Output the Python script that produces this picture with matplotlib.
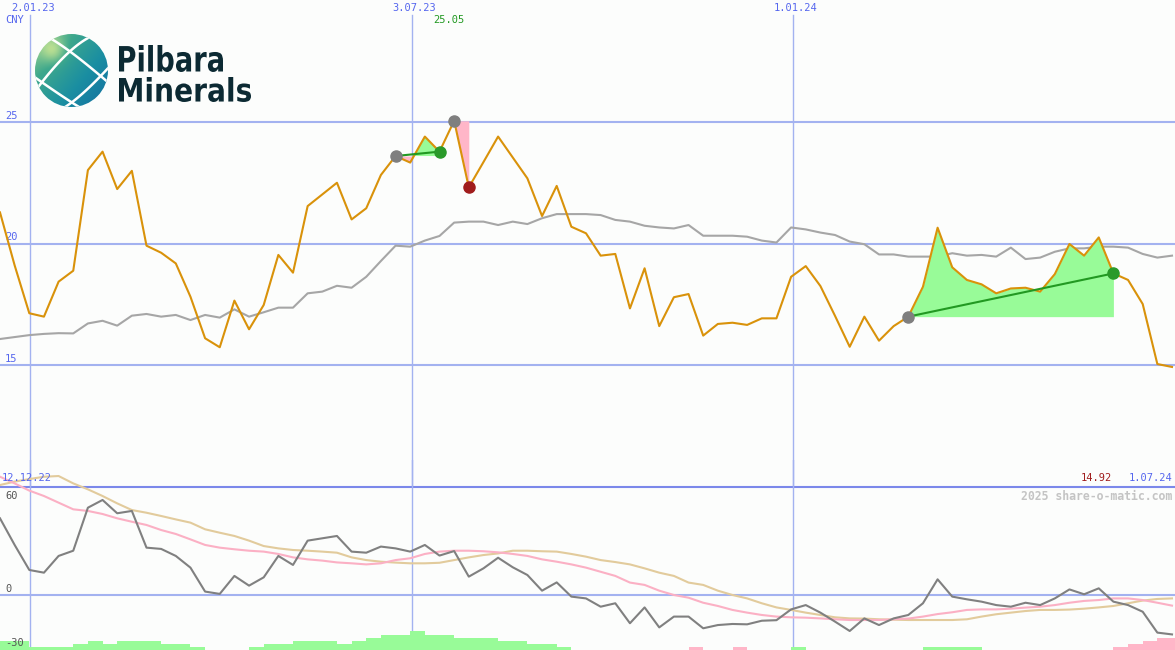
import numpy as np
import matplotlib
matplotlib.use("Agg")
import matplotlib.pyplot as plt
import matplotlib.transforms as mtransforms
from matplotlib.patches import Circle, PathPatch
from matplotlib.textpath import TextPath
from matplotlib.font_manager import FontProperties
from matplotlib.colors import LinearSegmentedColormap

# weekly closing prices (CNY), 12.12.22 .. 1.07.24
price = [21.28, 19.10, 17.13, 16.99, 18.43, 18.88, 23.02, 23.78, 22.24, 22.99,
         19.91, 19.62, 19.18, 17.81, 16.10, 15.73, 17.65, 16.47, 17.47, 19.53,
         18.80, 21.54, 22.02, 22.50, 20.99, 21.45, 22.82, 23.60, 23.33, 24.40,
         23.78, 25.05, 22.31, 23.35, 24.40, 23.54, 22.68, 21.13, 22.37, 20.69,
         20.42, 19.50, 19.57, 17.33, 18.98, 16.60, 17.79, 17.92, 16.21, 16.69,
         16.74, 16.65, 16.92, 16.92, 18.63, 19.07, 18.25, 17.02, 15.75, 16.99,
         16.00, 16.60, 16.99, 18.22, 20.65, 19.02, 18.50, 18.32, 17.95, 18.15,
         18.18, 18.02, 18.74, 19.98, 19.50, 20.25, 18.77, 18.50, 17.51, 15.04, 14.92]

# long moving average
avg = [16.07, 16.15, 16.23, 16.28, 16.31, 16.30, 16.71, 16.82, 16.62, 17.03,
       17.10, 16.99, 17.06, 16.85, 17.06, 16.95, 17.29, 16.99, 17.17, 17.36,
       17.36, 17.95, 18.02, 18.26, 18.18, 18.63, 19.28, 19.91, 19.87, 20.12,
       20.31, 20.86, 20.90, 20.90, 20.76, 20.90, 20.80, 21.04, 21.21, 21.21,
       21.21, 21.17, 20.97, 20.90, 20.73, 20.66, 20.62, 20.76, 20.32, 20.32,
       20.32, 20.28, 20.12, 20.04, 20.66, 20.58, 20.45, 20.35, 20.08, 19.97,
       19.55, 19.55, 19.46, 19.46, 19.46, 19.60, 19.50, 19.53, 19.46, 19.83,
       19.36, 19.42, 19.66, 19.80, 19.80, 19.87, 19.87, 19.83, 19.57, 19.42, 19.50]

# lower panel: oscillator and its two averages
osc = [42.6, 27.8, 13.9, 12.4, 21.7, 24.6, 48.5, 52.8, 45.4, 46.7,
       26.3, 25.6, 21.7, 15.2, 1.9, 0.6, 10.6, 5.2, 9.8, 21.7,
       16.7, 30.2, 31.5, 32.8, 24.1, 23.5, 26.9, 25.9, 24.1, 27.8,
       21.9, 24.4, 10.2, 14.8, 20.7, 15.4, 11.1, 2.4, 7.0, -0.9,
       -1.9, -6.5, -4.6, -15.7, -6.9, -18.0, -12.0, -12.0, -18.5, -16.7,
       -16.1, -16.3, -14.3, -14.0, -8.0, -5.6, -9.8, -14.8, -20.0, -13.0,
       -16.7, -13.0, -11.1, -4.6, 8.7, -0.9, -2.4, -3.7, -5.6, -6.5,
       -4.3, -5.6, -1.9, 3.1, 0.4, 3.7, -3.7, -5.6, -9.3, -20.9, -21.9]

osc_fast = [65.7, 62.0, 58.0, 55.0, 51.3, 47.6, 46.7, 45.0, 42.6, 40.7,
            38.9, 36.1, 33.9, 30.9, 27.8, 26.3, 25.4, 24.6, 24.1, 22.8,
            20.9, 19.8, 19.1, 18.1, 17.6, 17.0, 17.6, 19.4, 20.4, 22.8,
            24.1, 24.6, 24.6, 24.3, 23.7, 22.8, 21.7, 19.8, 18.5, 17.0,
            15.2, 12.9, 10.6, 6.9, 5.6, 2.4, 0.0, -1.5, -4.3, -6.1,
            -8.3, -9.8, -11.1, -12.0, -12.4, -12.6, -13.0, -13.5, -13.9, -13.9,
            -13.9, -13.5, -13.1, -12.0, -10.6, -9.6, -8.3, -8.0, -8.0, -7.6,
            -7.0, -6.5, -5.6, -4.3, -3.3, -2.8, -1.9, -1.9, -2.8, -4.3, -5.9]

osc_slow = [61.1, 63.0, 64.4, 65.7, 66.1, 62.0, 58.7, 55.0, 50.9, 47.2,
            45.7, 43.9, 42.0, 40.2, 36.5, 34.6, 32.8, 30.2, 27.2, 25.9,
            25.0, 24.6, 24.1, 23.5, 20.9, 19.4, 18.5, 18.0, 17.6, 17.6,
            17.9, 19.4, 20.9, 22.2, 23.1, 24.6, 24.6, 24.3, 24.1, 22.8,
            21.3, 19.4, 18.3, 17.0, 14.8, 12.4, 10.6, 6.9, 5.6, 2.4,
            0.0, -1.9, -4.6, -6.9, -8.3, -9.8, -11.1, -12.4, -13.0, -13.1,
            -13.5, -13.7, -13.9, -13.9, -13.9, -13.9, -13.5, -12.0, -10.7, -9.8,
            -8.9, -8.3, -8.3, -8.1, -7.6, -6.9, -6.1, -4.6, -3.1, -2.2, -1.9]

hist = [5, 5, 1.7, 1.7, 1.7, 3.3, 5, 3.3, 5, 5,
        5, 3.3, 3.3, 1.7, 0, 0, 0, 1.7, 3.3, 3.3,
        5, 5, 5, 3.3, 5, 6.7, 8.3, 8.3, 10.5, 8.3,
        8.3, 6.7, 6.7, 6.7, 5, 5, 3.3, 3.3, 1.7, 0,
        0, 0, 0, 0, 0, 0, 0, -1.7, 0, 0,
        -1.7, 0, 0, 0, 1.7, 0, 0, 0, 0, 0,
        0, 0, 0, 1.7, 1.7, 1.7, 1.7, 0, 0, 0,
        0, 0, 0, 0, 0, 0, -1.7, -3.3, -5, -6.7, -6.7]

# (start week, end week) of the marked swings
swings = [(27, 30), (31, 32), (62, 76)]

date_ticks = [2.05, 28.1, 54.1]
date_labels = ["2.01.23", "3.07.23", "1.01.24"]
price_ticks = [25, 20, 15]
osc_ticks = [60, 0, -30]

W, H = 1175, 650
STEP = 14.65
XMAX = W / STEP
BG = "#fcfdfc"
GRID = "#a3b2f0"
BLUE = "#5566ee"
MONO = "DejaVu Sans Mono"

fig = plt.figure(figsize=(W / 100, H / 100), dpi=100, facecolor=BG)
x = np.arange(len(price))
price_a = np.array(price)

# ---------- upper panel ----------
ax = fig.add_axes([0, 163 / H, 1, 487 / H])
ax.set_xlim(0, XMAX)
ax.set_ylim(9.98, 30.02)
ax.axis("off")

for v in price_ticks:
    ax.axhline(v, color=GRID, lw=1.5, zorder=1)
    ax.annotate(str(v), xy=(0, v), xytext=(5, 1), textcoords="offset pixels",
                ha="left", va="bottom", color=BLUE, fontsize=7.5, family=MONO)
for v in date_ticks:
    ax.axvline(v, ymin=0, ymax=(487 - 15) / 487, color=GRID, lw=1, zorder=1)

ax.plot(x, avg, color="#a6a6a6", lw=1.5, zorder=2)

for s, e in swings:
    seg = x[s:e + 1]
    vals = price_a[s:e + 1]
    base = price[s]
    ax.fill_between(seg, vals, base, where=vals >= base, interpolate=True,
                    color="#98fb98", lw=0, zorder=2)
    ax.fill_between(seg, vals, base, where=vals < base, interpolate=True,
                    color="#ffb6c8", lw=0, zorder=2)

ax.plot(x, price, color="#d9920a", lw=1.5, zorder=3)

for s, e in swings:
    up = price[e] > price[s]
    if up:
        ax.plot([s, e], [price[s], price[e]], color="#229922", lw=1.5, zorder=4)
    ax.plot(s, price[s], "o", color="#7f7f7f", ms=8, zorder=5)
    ax.plot(e, price[e], "o", color="#2a9a2a" if up else "#a01c1c", ms=8, zorder=5)

# ---------- lower panel ----------
ax2 = fig.add_axes([0, 0, 1, 190 / H])
ax2.set_xlim(0, XMAX)
BOTTOM = -30.56
ax2.set_ylim(BOTTOM, 75)
ax2.axis("off")

ax2.axhline(60, color="#7b88ea", lw=1.5, zorder=1)
ax2.axhline(0, color=GRID, lw=1.5, zorder=1)
for v in date_ticks:
    ax2.axvline(v, color=GRID, lw=1, zorder=1)

hist_a = np.array(hist)
ax2.bar(x, np.abs(hist_a), width=1, align="edge", bottom=BOTTOM,
        color=np.where(hist_a >= 0, "#98fb98", "#ffb6c8"), lw=0, zorder=2)

ax2.plot(x, osc_slow, color="#e2cb9c", lw=1.5, zorder=3)
ax2.plot(x, osc_fast, color="#fbb0c4", lw=1.5, zorder=3)
ax2.plot(x, osc, color="#808080", lw=1.5, zorder=4)

ax2.annotate(str(osc_ticks[0]), xy=(0, osc_ticks[0]), xytext=(5, -4),
             textcoords="offset pixels", ha="left", va="top",
             color="#555555", fontsize=7.5, family=MONO)
for v in osc_ticks[1:]:
    ax2.annotate(str(v), xy=(0, v), xytext=(5, 1), textcoords="offset pixels",
                 ha="left", va="bottom", color="#555555", fontsize=7.5, family=MONO)


def px(xp, yp):
    return xp / W, 1 - yp / H


for v, lab in zip(date_ticks, date_labels):
    fig.text(*px(v * STEP + 3, 8), lab, ha="center", va="center",
             color=BLUE, fontsize=7.5, family=MONO)
fig.text(*px(5, 20), "CNY", ha="left", va="center", color=BLUE, fontsize=7.5, family=MONO)
imax = int(np.argmax(price_a))
fig.text(*px(imax * STEP - 5, 20), f"{price[imax]:.2f}", ha="center", va="center",
         color="#229922", fontsize=7.5, family=MONO)
fig.text(*px(2, 478), "12.12.22", ha="left", va="center", color=BLUE, fontsize=7.5, family=MONO)
fig.text(*px(1112, 478), f"{price[-1]:.2f}", ha="right", va="center",
         color="#a01c1c", fontsize=7.5, family=MONO)
fig.text(*px(1172, 478), "1.07.24", ha="right", va="center", color=BLUE, fontsize=7.5, family=MONO)
fig.text(*px(1172, 496), "2025 share-o-matic.com", ha="right", va="center",
         color="#c4c4c4", fontsize=8.3, family=MONO, weight="bold")

# ---------- logo ----------
lax = fig.add_axes([0, 0, 1, 1])
lax.axis("off")
cmap = LinearSegmentedColormap.from_list("globe", ["#b8de92", "#3ea88c", "#1a8ea2", "#136fa0"])
yy, xx = np.mgrid[0:1:200j, 0:1:200j]
grad = 0.55 * xx + 0.45 * yy - 0.3 * np.exp(-((xx - 0.25) ** 2 + (yy - 0.22) ** 2) / 0.03)
im = lax.imshow(grad, extent=[35, 108, 107, 34], cmap=cmap, aspect="auto", zorder=5)
lax.set_xlim(0, W)
lax.set_ylim(H, 0)
im.set_clip_path(Circle((71.5, 70.5), 36.5, transform=lax.transData))


def bez(p0, pm, p2, n=60):
    # quadratic curve through p0, pm (at t=0.5) and p2
    p0, pm, p2 = np.array(p0), np.array(pm), np.array(p2)
    c = 2 * pm - (p0 + p2) / 2
    t = np.linspace(0, 1, n)[:, None]
    return (1 - t) ** 2 * p0 + 2 * (1 - t) * t * c + t ** 2 * p2


for p0, pm, p2 in [((46, 36), (72, 53), (110, 84)), ((92, 36), (66, 55), (36, 90)),
                   ((33, 76), (62, 96), (84, 110)), ((110, 66), (82, 94), (60, 110))]:
    c = bez(p0, pm, p2)
    ln, = lax.plot(c[:, 0], c[:, 1], color="white", lw=1.8, zorder=6, solid_capstyle="butt")
    ln.set_clip_path(Circle((71.5, 70.5), 36.5, transform=lax.transData))

fp = FontProperties(family="DejaVu Sans", weight="bold")
for word, (x0, x1, ytop, ybase) in [("Pilbara", (119, 223, 45, 72)),
                                     ("Minerals", (119, 251, 77, 102))]:
    tp = TextPath((0, 0), word, size=1, prop=fp)
    bb = tp.get_extents()
    tr = (mtransforms.Affine2D().translate(-bb.x0, -bb.y0)
          .scale((x1 - x0) / bb.width, -(ybase - ytop) / bb.height)
          .translate(x0, ybase))
    lax.add_patch(PathPatch(tr.transform_path(tp), color="#0c2a33", lw=0, zorder=6))

fig.savefig("out.png", dpi=100, facecolor=BG)
